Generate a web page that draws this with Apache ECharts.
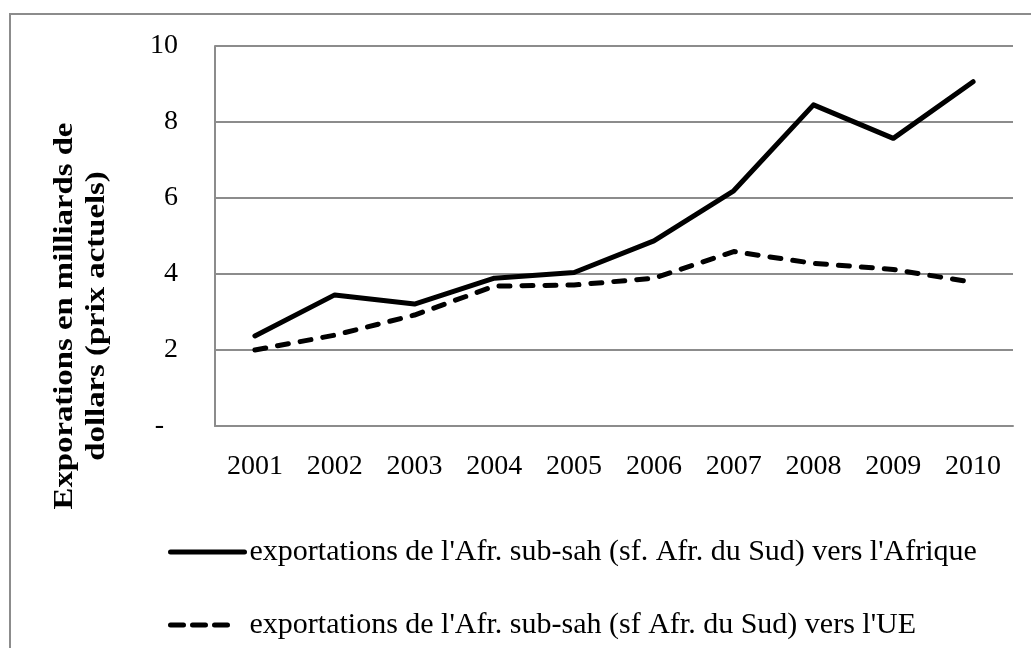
<!DOCTYPE html>
<html>
<head>
<meta charset="utf-8">
<script src="https://cdn.jsdelivr.net/npm/echarts@6/dist/echarts.min.js"></script>
<style>
    html, body { margin: 0; padding: 0; background: #fff; }
    #chart { width: 1031px; height: 648px; }
</style>
</head>
<body>
<div id="chart"></div>
<script>
var years = ['2001', '2002', '2003', '2004', '2005', '2006', '2007', '2008', '2009', '2010'];
var versAfrique = [2.37, 3.45, 3.21, 3.89, 4.04, 4.87, 6.19, 8.45, 7.57, 9.06];
var versUE = [2.0, 2.39, 2.92, 3.68, 3.71, 3.89, 4.59, 4.28, 4.12, 3.78];
var seriesNames = [
    "exportations de l'Afr. sub-sah (sf. Afr. du Sud) vers l'Afrique",
    "exportations de l'Afr. sub-sah (sf Afr. du Sud) vers l'UE"
];
var yAxisTitle = 'Exporations en milliards de\ndollars (prix actuels)';

var serif = '"Liberation Serif", "Times New Roman", serif';
var grey = '#8c8c8c';

var chart = echarts.init(document.getElementById('chart'));

option = {
    animation: false,
    backgroundColor: '#fff',
    grid: {
        left: 215,
        right: 18,
        top: 46,
        bottom: 222
    },
    graphic: [{
        type: 'rect',
        shape: { x: 10, y: 14, width: 1100, height: 700 },
        style: { fill: 'none', stroke: grey, lineWidth: 2 }
    }, {
        // axis title, stretched a bit along its length like the original
        type: 'text',
        x: 81,
        y: 316,
        rotation: Math.PI / 2,
        scaleX: 1.17,
        style: {
            text: yAxisTitle,
            font: 'bold 28px ' + serif,
            fill: '#000',
            align: 'center',
            verticalAlign: 'middle',
            lineHeight: 32
        }
    }],
    legend: [{
        data: [seriesNames[0]],
        left: 163,
        top: 532,
        itemWidth: 74,
        itemHeight: 2,
        itemGap: 0,
        itemStyle: { opacity: 0 },
        lineStyle: { width: 5 },
        textStyle: {
            fontFamily: serif,
            fontSize: 30,
            color: '#000'
        }
    }, {
        data: [seriesNames[1]],
        left: 163,
        top: 605,
        itemWidth: 64,
        itemHeight: 2,
        itemGap: 0,
        itemStyle: { opacity: 0 },
        lineStyle: { width: 5, type: [13, 9], cap: 'round' },
        textStyle: {
            fontFamily: serif,
            fontSize: 30,
            color: '#000',
            padding: [0, 0, 0, 10]
        }
    }],
    xAxis: {
        type: 'category',
        data: years,
        boundaryGap: true,
        axisLine: { lineStyle: { color: grey, width: 2 } },
        axisTick: { show: false },
        axisLabel: {
            color: '#000',
            fontFamily: serif,
            fontSize: 28,
            margin: 27
        }
    },
    yAxis: {
        type: 'value',
        min: 0,
        max: 10,
        interval: 2,
        axisLine: { show: true, lineStyle: { color: grey, width: 2 } },
        axisTick: { show: false },
        splitLine: { lineStyle: { color: grey, width: 2 } },
        axisLabel: {
            color: '#000',
            fontFamily: serif,
            fontSize: 28,
            margin: 37,
            formatter: function (v) {
                return v === 0 ? '-  ' : String(v);
            }
        }
    },
    series: [{
        name: seriesNames[0],
        type: 'line',
        data: versAfrique,
        symbol: 'none',
        lineStyle: { color: '#000', width: 5, cap: 'round', join: 'round' },
        itemStyle: { color: '#000' }
    }, {
        name: seriesNames[1],
        type: 'line',
        data: versUE,
        symbol: 'none',
        lineStyle: { color: '#000', width: 5, type: [11, 12], cap: 'round', join: 'round' },
        itemStyle: { color: '#000' }
    }]
};
chart.setOption(option);
</script>
</body>
</html>
